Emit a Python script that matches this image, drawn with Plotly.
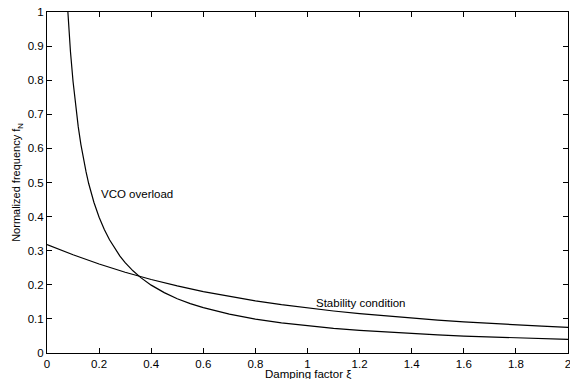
import plotly.graph_objects as go

# Damping factor values and read-off normalized frequencies
vco_x = [0.075, 0.08, 0.09, 0.10, 0.11, 0.12, 0.13, 0.14, 0.15, 0.16, 0.18, 0.20, 0.22, 0.24,
         0.26, 0.28, 0.30, 0.33, 0.36, 0.40, 0.45, 0.50, 0.55, 0.60, 0.70, 0.80, 0.90, 1.0,
         1.1, 1.2, 1.3, 1.4, 1.5, 1.6, 1.7, 1.8, 1.9, 2.0]
vco_y = [1.061, 0.995, 0.884, 0.796, 0.723, 0.663, 0.612, 0.569, 0.531, 0.497, 0.442, 0.398,
         0.362, 0.332, 0.306, 0.284, 0.265, 0.241, 0.221, 0.199, 0.177, 0.159, 0.145, 0.133,
         0.114, 0.0995, 0.0884, 0.0796, 0.0723, 0.0663, 0.0612, 0.0569, 0.0531, 0.0497,
         0.0468, 0.0442, 0.0419, 0.0398]

stab_x = [0.0, 0.1, 0.2, 0.3, 0.4, 0.5, 0.6, 0.7, 0.8, 0.9, 1.0, 1.1, 1.2, 1.3, 1.4, 1.5,
          1.6, 1.7, 1.8, 1.9, 2.0]
stab_y = [0.318, 0.288, 0.261, 0.2368, 0.2155, 0.1967, 0.1802, 0.1657, 0.153, 0.1418, 0.1318,
          0.1231, 0.1152, 0.1083, 0.1020, 0.0964, 0.0913, 0.0867, 0.0825, 0.0787, 0.0751]

x_ticks = [0, 0.2, 0.4, 0.6, 0.8, 1, 1.2, 1.4, 1.6, 1.8, 2]
x_labels = ["0", "0.2", "0.4", "0.6", "0.8", "1", "1.2", "1.4", "1.6", "1.8", "2"]
y_ticks = [0, 0.1, 0.2, 0.3, 0.4, 0.5, 0.6, 0.7, 0.8, 0.9, 1]
y_labels = ["0", "0.1", "0.2", "0.3", "0.4", "0.5", "0.6", "0.7", "0.8", "0.9", "1"]

x_title = "Damping factor ξ"
y_title = "Normalized frequency f<sub>N</sub>"

font = "Liberation Sans, Arial, sans-serif"

fig = go.Figure()
fig.add_trace(go.Scatter(x=vco_x, y=vco_y, mode="lines",
                         line=dict(color="black", width=1.2), showlegend=False))
fig.add_trace(go.Scatter(x=stab_x, y=stab_y, mode="lines",
                         line=dict(color="black", width=1.2), showlegend=False))

fig.add_annotation(x=0.2, y=0.467, text="VCO overload", showarrow=False,
                   xanchor="left", yanchor="middle", font=dict(size=11.5, color="black", family=font))
fig.add_annotation(x=1.025, y=0.148, text="Stability condition", showarrow=False,
                   xanchor="left", yanchor="middle", font=dict(size=11.5, color="black", family=font))
# x-axis title placed just below tick labels (partly cut by the bottom edge, as in the original)
fig.add_annotation(x=0.5, y=0, xref="paper", yref="paper", text=x_title, showarrow=False,
                   xanchor="center", yanchor="middle", yshift=-21,
                   font=dict(size=11.5, color="black", family=font))

axis_common = dict(showline=True, linecolor="black", linewidth=1, mirror="ticks",
                   ticks="inside", ticklen=5, tickcolor="black", showgrid=False,
                   zeroline=False, tickfont=dict(size=11.5, color="black", family=font),
                   ticklabeloverflow="allow", automargin=False)

fig.update_xaxes(range=[0, 2], tickvals=x_ticks, ticktext=x_labels,
                 ticklabelstandoff=0, **axis_common)
fig.update_yaxes(range=[0, 1], tickvals=y_ticks, ticktext=y_labels,
                 title=dict(text=y_title, font=dict(size=11, color="black", family=font), standoff=4),
                 **axis_common)

fig.update_layout(width=570, height=379, margin=dict(l=47, r=2, t=12, b=26),
                  plot_bgcolor="white", paper_bgcolor="white")

fig.write_html("out.html", config={"displayModeBar": False},
               post_script="document.body.style.margin='0';document.body.style.overflow='hidden';")
